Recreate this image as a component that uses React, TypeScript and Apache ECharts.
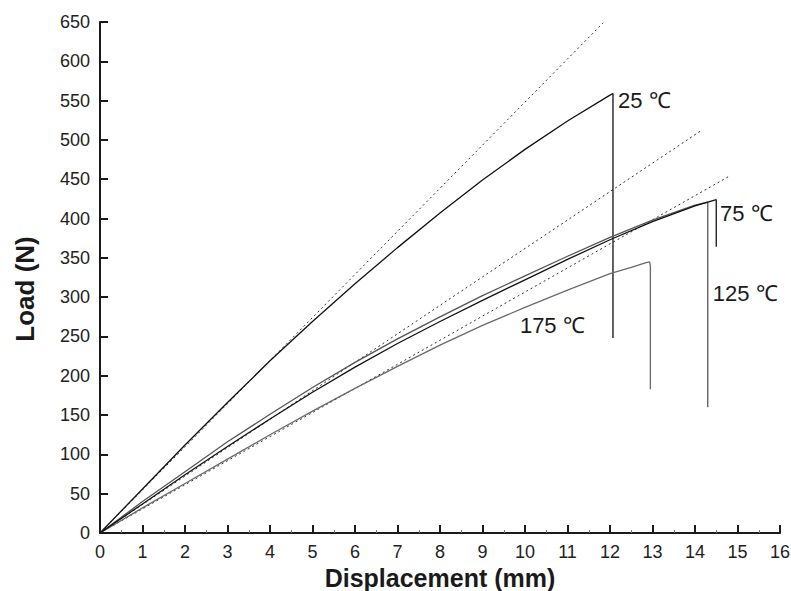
import React, { useEffect, useRef } from "react";
import * as echarts from "echarts";

// Displacement (mm) / Load (N) readings for each temperature
const x25 = [0, 1, 2, 3, 4, 5, 6, 7, 8, 9, 10, 11, 12, 12.07, 12.07];
const y25 = [0, 56, 112, 166, 219, 269, 317, 363, 407, 449, 488, 524, 557, 559, 248];

const x75 = [0, 1, 2, 3, 4, 5, 6, 7, 8, 9, 10, 11, 12, 13, 14, 14.5, 14.5];
const y75 = [0, 37, 74, 110, 145, 179, 211, 241, 269, 296, 322, 348, 373, 396, 416, 424, 364];

const x125 = [0, 1, 2, 3, 4, 5, 6, 7, 8, 9, 10, 11, 12, 13, 14, 14.3, 14.3];
const y125 = [0, 40, 78, 116, 151, 185, 217, 247, 275, 302, 327, 352, 376, 398, 417, 421, 160];

const x175 = [0, 1, 2, 3, 4, 5, 6, 7, 8, 9, 10, 11, 12, 12.5, 12.85, 12.93, 12.95, 12.95];
const y175 = [0, 32, 63, 94, 125, 155, 184, 212, 239, 264, 287, 309, 330, 338, 344, 345, 340, 183];

// Initial-stiffness (tangent) lines
const tangentX = [
  [0, 11.84],
  [0, 14.12],
  [0, 14.78],
];
const tangentY = [
  [0, 649],
  [0, 511],
  [0, 453],
];

// Curve labels (text, x mm at left edge, load N at label's vertical centre)
const labelTexts = ["25 ℃", "75 ℃", "125 ℃", "175 ℃"];
const labelX = [12.19, 14.59, 14.42, 9.88];
const labelY = [550, 406, 305, 264];

const xTicks = { min: 0, max: 16, interval: 1 };
const yTicks = { min: 0, max: 650, interval: 50 };

const zip = (xs: number[], ys: number[]) => xs.map((x, i) => [x, ys[i]]);

export default function App() {
  const ref = useRef<HTMLDivElement>(null);

  useEffect(() => {
    if (!ref.current) return;
    const chart = echarts.init(ref.current, null, { renderer: "svg" });
    const font = "Liberation Sans, Arial, Helvetica, sans-serif";
    const axisColor = "#1a1a1a";

    const curve = (name: string, xs: number[], ys: number[], color: string, width: number) => ({
      name,
      type: "line",
      data: zip(xs, ys),
      showSymbol: false,
      symbol: "none",
      lineStyle: { color, width },
      z: 3,
    });

    const dashed = tangentX.map((xs, i) => ({
      name: "tangent" + i,
      type: "line",
      data: zip(xs, tangentY[i]),
      showSymbol: false,
      symbol: "none",
      lineStyle: { color: "#333", width: 1, type: [2, 3] },
      z: 2,
    }));

    chart.setOption({
      animation: false,
      backgroundColor: "#fff",
      grid: {
        left: 100,
        right: 11,
        top: 22,
        bottom: 58,
        containLabel: false,
        outerBoundsMode: "none",
      },
      xAxis: {
        type: "value",
        min: xTicks.min,
        max: xTicks.max,
        interval: xTicks.interval,
        name: "Displacement (mm)",
        nameLocation: "middle",
        nameGap: 30,
        nameTextStyle: { fontFamily: font, fontWeight: "bold", fontSize: 25, color: "#1a1a1a" },
        axisLine: { show: true, lineStyle: { color: axisColor, width: 2 } },
        axisTick: { show: true, inside: true, length: 8, lineStyle: { color: axisColor, width: 2 } },
        minorTick: { show: true, splitNumber: 2, length: 3, lineStyle: { color: "#777", width: 1 } },
        axisLabel: { fontFamily: font, fontSize: 18, color: "#222", margin: 10 },
        splitLine: { show: false },
      },
      yAxis: {
        type: "value",
        min: yTicks.min,
        max: yTicks.max,
        interval: yTicks.interval,
        axisLine: { show: true, lineStyle: { color: axisColor, width: 2 } },
        axisTick: { show: true, inside: true, length: 8, lineStyle: { color: axisColor, width: 2 } },
        axisLabel: { fontFamily: font, fontSize: 18, color: "#222", margin: 10 },
        splitLine: { show: false },
      },
      series: [
        ...dashed,
        curve("25 ℃", x25, y25, "#111", 1.3),
        curve("175 ℃", x175, y175, "#6a6a6a", 1.3),
        curve("125 ℃", x125, y125, "#555", 1.3),
        curve("75 ℃", x75, y75, "#111", 1.3),
      ],
    });

    const labels = labelTexts.map((t, i) => {
      const p = chart.convertToPixel({ gridIndex: 0 }, [labelX[i], labelY[i]]) as number[];
      return {
        type: "text",
        x: p[0],
        y: p[1],
        style: {
          text: t,
          fontFamily: font,
          fontSize: 22,
          fill: "#1a1a1a",
          align: "left",
          verticalAlign: "middle",
        },
      };
    });

    chart.setOption({
      graphic: [
        ...labels,
        {
          type: "text",
          x: 24.5,
          y: 289,
          rotation: Math.PI / 2,
          style: {
            text: "Load (N)",
            fontFamily: font,
            fontWeight: "bold",
            fontSize: 26,
            fill: "#1a1a1a",
            align: "center",
            verticalAlign: "middle",
          },
        },
      ],
    });

    return () => chart.dispose();
  }, []);

  return (
    <div
      ref={ref}
      style={{ position: "fixed", left: 0, top: 0, width: 791, height: 591, background: "#fff" }}
    />
  );
}
